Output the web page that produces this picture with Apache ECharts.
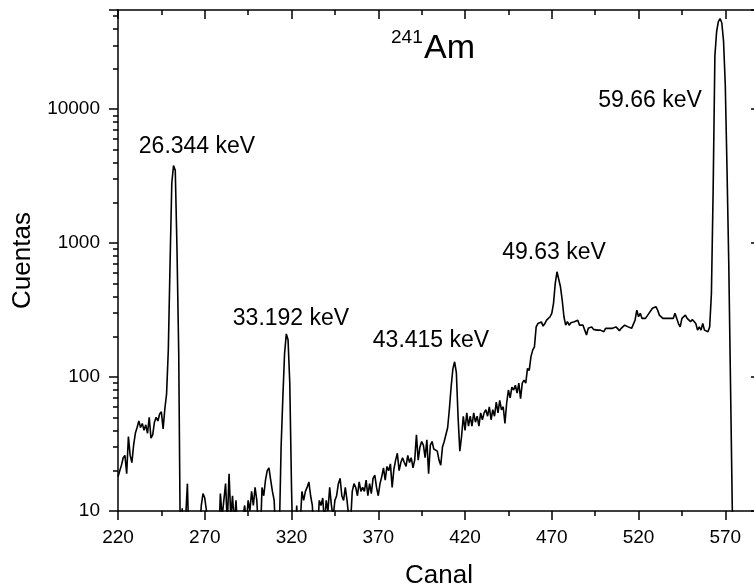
<!DOCTYPE html>
<html>
<head>
<meta charset="utf-8">
<title>241Am</title>
<script src="https://cdn.jsdelivr.net/npm/echarts@6/dist/echarts.min.js"></script>
<style>
  html, body { margin: 0; padding: 0; background: #fff; }
  #chart { width: 754px; height: 586px; }
</style>
</head>
<body>
<div id="chart"></div>
<script>
// espectro de 241Am, una lectura por canal a partir del canal 220
const canalInicio = 220;
const cuentas220 = [18, 20, 22, 25, 26, 19, 36, 26, 23, 31,
  38, 42, 47, 42, 45, 40, 44, 38, 50, 35,
  37, 46, 50, 47, 53, 55, 41, 58, 75, 160,
  700, 2800, 3800, 3500, 900, 150, 4, 10.5, 5, 5];
const cuentas260 = [16, 5, 4, 5, 4, 5, 4, 7, 11, 13.5,
  12.5, 10, 6, 4, 5, 4, 5, 4, 6, 13.5,
  9, 12, 16, 8, 19, 9, 13, 8, 12, 7,
  5, 6, 9, 11, 8, 12, 10, 14, 11, 15];
const cuentas300 = [12, 7, 6, 15, 13, 17, 20, 21, 17, 14,
  12, 6, 5, 7, 30, 70, 150, 210, 190, 90,
  15, 4, 6, 11, 5, 8, 14, 12, 14, 15,
  16.5, 13, 11, 6, 5, 7, 12, 11, 12.5, 8];
const cuentas340 = [12, 10, 15, 11, 9, 12, 13, 16, 17.5, 13,
  12, 15, 12, 9, 8, 14, 16, 15, 13, 16.5,
  14, 15, 14, 17, 13, 16, 13.5, 17.5, 18.5, 15,
  13, 16, 18, 21, 17, 21.5, 20, 22.5, 15, 20.5];
const cuentas380 = [24, 27, 20, 23, 25, 23, 21.5, 26, 23, 25,
  21, 24, 37, 24, 30, 33, 31, 25, 34, 19,
  31, 33, 29, 30, 28, 24, 22, 30, 33, 33,
  42, 58, 85, 115, 130, 108, 50, 28, 36, 51];
const cuentas420 = [40, 54, 43, 51, 43, 54, 46, 51, 43, 54,
  48, 54, 57, 51, 60, 48, 57, 51, 65, 54,
  67, 57, 60, 45, 64, 80, 70, 84, 80, 87,
  76, 90, 69, 90, 95, 90, 116, 112, 142, 159];
const cuentas460 = [168, 237, 251, 244, 258, 240, 251, 266, 274, 282,
  299, 355, 500, 611, 600, 472, 376, 282, 244, 259,
  244, 254, 248, 259, 251, 266, 244, 240, 244, 224,
  206, 231, 224, 237, 227, 231, 224, 231, 224, 224];
const cuentas500 = [218, 231, 224, 231, 227, 231, 227, 237, 231, 222,
  231, 237, 244, 251, 237, 237, 231, 237, 266, 316,
  282, 299, 274, 282, 274, 279, 299, 299, 326, 335,
  335, 316, 290, 282, 274, 282, 274, 282, 274, 282];
const cuentas540 = [274, 299, 299, 251, 237, 274, 266, 290, 274, 282,
  259, 269, 266, 251, 224, 237, 224, 251, 224, 231,
  218, 237, 420, 2500, 25000, 38000, 45000, 47500, 44000, 32000,
  15000, 3500, 700, 90, 11, 3, 2];

const etiquetasY = [10, 100, 1000, 10000];
const picos = ['26.344 keV', '33.192 keV', '43.415 keV', '49.63 keV', '59.66 keV'];
// posicion (px) de cada rotulo de pico
const posPicos = [[197, 147], [291, 319], [431, 341], [554, 253], [650, 101]];

const cuentas = [].concat(cuentas220, cuentas260, cuentas300, cuentas340, cuentas380,
  cuentas420, cuentas460, cuentas500, cuentas540);
const datos = cuentas.map((v, i) => [canalInicio + i, v]);

const fuente = 'Liberation Sans, Arial, sans-serif';
const negro = { color: '#000', width: 1.5 };

const myChart = echarts.init(document.getElementById('chart'));

const option = {
  animation: false,
  backgroundColor: '#fff',
  grid: { left: 118, top: 10, right: -6, bottom: 75, outerBoundsMode: 'none', containLabel: false },
  xAxis: [
    {
      type: 'value', position: 'bottom', min: 220, max: 590, interval: 50,
      name: 'Canal', nameLocation: 'middle', nameGap: 52,
      nameTextStyle: { fontSize: 26, color: '#000', fontFamily: fuente },
      axisLine: { onZero: false, lineStyle: negro },
      axisTick: { length: 9, lineStyle: negro },
      axisLabel: { fontSize: 19, color: '#000', fontFamily: fuente, margin: 17, showMaxLabel: false },
      splitLine: { show: false }
    },
    {
      type: 'value', position: 'bottom', min: 220, max: 590, interval: 25,
      axisLine: { show: false },
      axisTick: { length: 5, lineStyle: negro },
      axisLabel: { show: false },
      splitLine: { show: false }
    },
    {
      type: 'value', position: 'top', min: 220, max: 590, interval: 50,
      axisLine: { onZero: false, lineStyle: negro },
      axisTick: { inside: true, length: 9, lineStyle: negro },
      axisLabel: { show: false },
      splitLine: { show: false }
    },
    {
      type: 'value', position: 'top', min: 220, max: 590, interval: 25,
      axisLine: { show: false },
      axisTick: { inside: true, length: 5, lineStyle: negro },
      axisLabel: { show: false },
      splitLine: { show: false }
    }
  ],
  yAxis: [
    {
      type: 'log', logBase: 10, position: 'left', min: 10, max: 55000,
      name: 'Cuentas', nameLocation: 'middle', nameGap: 78, nameRotate: 90,
      nameTextStyle: { fontSize: 26, color: '#000', fontFamily: fuente },
      axisLine: { onZero: false, lineStyle: negro },
      axisTick: { length: 9, lineStyle: negro },
      minorTick: { show: true, splitNumber: 9, length: 5, lineStyle: negro },
      axisLabel: {
        fontSize: 19, color: '#000', fontFamily: fuente, margin: 18,
        formatter: (v) => (etiquetasY.indexOf(Math.round(v)) >= 0 ? String(Math.round(v)) : '')
      },
      splitLine: { show: false }
    },
    {
      type: 'log', logBase: 10, position: 'right', min: 10, max: 55000,
      axisLine: { onZero: false, lineStyle: negro },
      axisTick: { inside: true, length: 9, lineStyle: negro },
      minorTick: { show: true, splitNumber: 9, length: 5, lineStyle: negro },
      axisLabel: { show: false },
      splitLine: { show: false }
    }
  ],
  series: [
    {
      name: '241Am',
      type: 'line',
      xAxisIndex: 0,
      yAxisIndex: 0,
      data: datos,
      showSymbol: false,
      symbol: 'none',
      clip: true,
      lineStyle: { color: '#000', width: 1.6 }
    }
  ],
  graphic: [
    {
      type: 'text', left: 391, top: 28,
      style: { text: '241', fontSize: 19, fill: '#000', fontFamily: fuente }
    },
    {
      type: 'text', left: 424, top: 32,
      style: { text: 'Am', fontSize: 34, fill: '#000', fontFamily: fuente }
    }
  ].concat(picos.map((t, i) => ({
    type: 'text',
    x: posPicos[i][0],
    y: posPicos[i][1],
    style: {
      text: t, fontSize: 23, fill: '#000', fontFamily: fuente,
      align: 'center', verticalAlign: 'middle'
    }
  })))
};

myChart.setOption(option);
</script>
</body>
</html>
